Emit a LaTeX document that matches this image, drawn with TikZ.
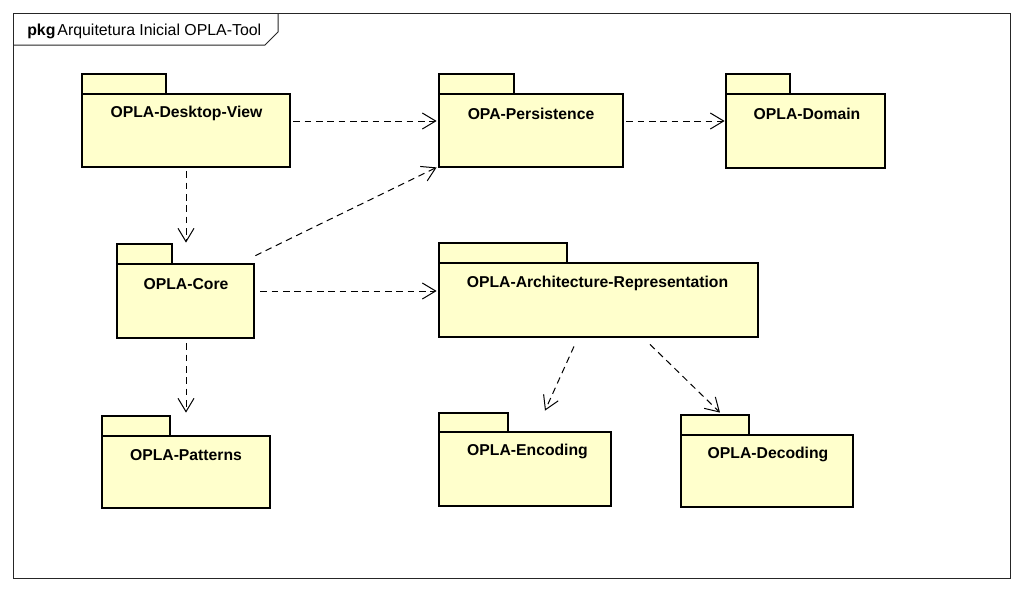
\documentclass[tikz,border=0pt]{standalone}
\usepackage{fontspec}
\setmainfont{Liberation Sans}
\usetikzlibrary{arrows.meta,calc,fit}
\definecolor{pkgfill}{HTML}{FFFFCC}
\tikzset{
  pkgbox/.style={draw=black, line width=2.1pt, fill=pkgfill, inner sep=0pt, minimum size=0pt},
  lbl/.style={inner sep=0pt, font=\fontsize{11.8}{14}\selectfont\bfseries},
  dep/.style={draw=black, line width=0.75pt, dash pattern=on 5pt off 3.5pt,
    -{Straight Barb[length=10pt,width=12pt,line width=0.75pt]}},
  framebox/.style={draw=black!85, line width=0.75pt}
}
\begin{document}
\begin{tikzpicture}[x=0.75pt,y=-0.75pt]
\useasboundingbox (0,0) rectangle (1024,590);
\fill[white] (0,0) rectangle (1024,590);
% frame
\draw[framebox] (13,13) rectangle (1010,578);
\draw[framebox] (13,45) -- (265,45) -- (278,32) -- (278,13);
\node[anchor=west, inner sep=0pt, font=\fontsize{11.9}{14}\selectfont] (title) at (27,31.5) {\textbf{pkg}\kern1.5pt Arquitetura Inicial OPLA-Tool};

% packages: tab then body
\node[pkgbox, fit={(82,74)(166,94)}] (dvtab) {};
\node[pkgbox, fit={(82,94)(290,167)}] (dv) {};
\node[lbl] (dvl) at ($(dv.north)+(0.5,21)$) {OPLA-Desktop-View};

\node[pkgbox, fit={(439,74)(514,94)}] (perstab) {};
\node[pkgbox, fit={(439,94)(623,167)}] (pers) {};
\node[lbl] (persl) at ($(pers.north)+(0,21)$) {OPA-Persistence};

\node[pkgbox, fit={(726,74)(790,94)}] (domtab) {};
\node[pkgbox, fit={(726,94)(885,168)}] (dom) {};
\node[lbl] (doml) at ($(dom.north)+(1.5,21)$) {OPLA-Domain};

\node[pkgbox, fit={(117,244)(172,264)}] (coretab) {};
\node[pkgbox, fit={(117,264)(254,338)}] (core) {};
\node[lbl] (corel) at ($(core.north)+(0.5,21)$) {OPLA-Core};

\node[pkgbox, fit={(439,243)(567,263)}] (archtab) {};
\node[pkgbox, fit={(439,263)(758,337)}] (arch) {};
\node[lbl] (archl) at ($(arch.north)+(-1,21.5)$) {OPLA-Architecture-Representation};

\node[pkgbox, fit={(102,416)(170,436)}] (pattab) {};
\node[pkgbox, fit={(102,436)(270,508)}] (pat) {};
\node[lbl] (patl) at ($(pat.north)+(0,20)$) {OPLA-Patterns};

\node[pkgbox, fit={(439,413)(508,432)}] (enctab) {};
\node[pkgbox, fit={(439,432)(611,506)}] (enc) {};
\node[lbl] (encl) at ($(enc.north)+(2.5,21)$) {OPLA-Encoding};

\node[pkgbox, fit={(681,415)(749,435)}] (dectab) {};
\node[pkgbox, fit={(681,435)(853,507)}] (dec) {};
\node[lbl] (decl) at ($(dec.north)+(1,21)$) {OPLA-Decoding};

% dependencies
\draw[dep] ($(dv.east)+(2,-9.5)$) -- ($(pers.west)+(-1,-9.5)$);
\draw[dep] ($(pers.east)+(2,-9.5)$) -- ($(dom.west)+(0,-10)$);
\draw[dep] ($(dv.south)+(0,3)$) -- ($(core.north)+(0.5,-20)$);
\draw[dep] ($(core.north east)+(0,-7)$) -- ($(pers.south west)+(-1,-1)$);
\draw[dep] ($(core.east)+(5,-10)$) -- ($(arch.west)+(-1,-9)$);
\draw[dep] ($(core.south)+(0.5,4)$) -- ($(pat.north)+(0,-22)$);
\draw[dep] ($(arch.south)+(-24.5,8)$) -- ($(enc.north)+(20,-20)$);
\draw[dep] ($(arch.south)+(51.5,6)$) -- ($(dec.north)+(-47,-21)$);
\end{tikzpicture}
\end{document}
